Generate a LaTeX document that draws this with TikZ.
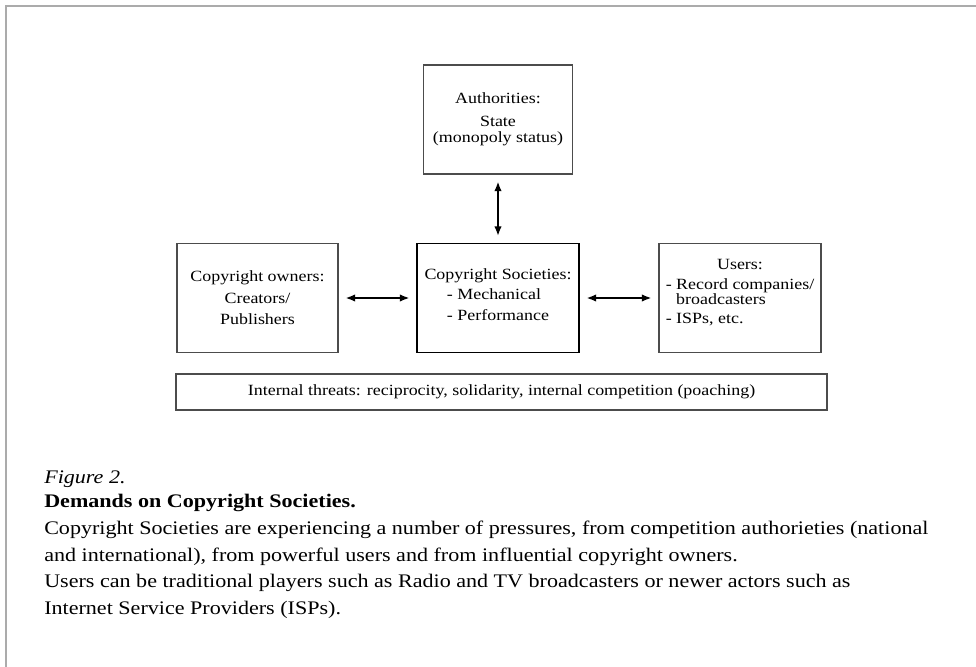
\documentclass[tikz,border=0pt]{standalone}
\usepackage{fontspec}
\setmainfont{Liberation Serif}[FakeStretch=1.15]
\usetikzlibrary{arrows.meta}

\tikzset{
  blockbox/.style={draw=black!70,line width=1.1pt,inner sep=0pt,align=center,
    font=\fontsize{11.7}{16}\selectfont},
  twoway/.style={{Latex[length=7pt,width=5.5pt]}-{Latex[length=7pt,width=5.5pt]},
    line width=1pt,shorten >=5.25pt,shorten <=5.25pt},
  captext/.style={anchor=base west,inner sep=0pt,font=\fontsize{14.4}{17}\selectfont}
}

\begin{document}
\begin{tikzpicture}[x=0.75pt,y=-0.75pt]
\path[use as bounding box] (0,0) rectangle (976,667);
\draw[black!33,line width=2.2pt] (6,667) -- (6,6) -- (976,6);
% the four boxes
\node[blockbox,minimum width=111.75pt,minimum height=81.75pt] (auth) at (498,119.5)
  {Authorities:\\[1.2pt] State\\[-4pt] (monopoly status)};
\node[blockbox,minimum width=120.75pt,minimum height=81.75pt] (owners) at (257.5,298)
  {Copyright owners:\\[0.5pt] Creators/\\[-0.25pt] Publishers};
\node[blockbox,draw=black,minimum width=121.5pt,minimum height=81.75pt] (soc) at (498,298)
  {Copyright Societies:\\[0.5pt]
   \begin{tabular}{@{}l@{}}- Mechanical\\[-0.25pt] - Performance\end{tabular}};
\node[blockbox,minimum width=121.5pt,minimum height=81.75pt] (users) at (740,298)
  {\begin{tabular}{@{}l@{}}\multicolumn{1}{@{}c@{}}{Users:}\\[-1pt]
   - Record companies/\\[-4.5pt] \phantom{- }broadcasters\\[-1.75pt]
   - ISPs, etc.\\[9pt]\end{tabular}};
\node[blockbox,minimum width=488.25pt,minimum height=27pt] (threats) at (501.5,392)
  {Internal threats: reciprocity, solidarity, internal competition (poaching)};
% arrows
\draw[twoway] (auth) -- (soc);
\draw[twoway] (owners) -- (soc);
\draw[twoway] (soc) -- (users);
% caption
\node[captext] (figno) at (44,483) {\textit{Figure 2.}};
\node[captext] (figtitle) at (44,507) {\textbf{Demands on Copyright Societies.}};
\node[captext] (capa) at (44,534) {Copyright Societies are experiencing a number of pressures, from competition authorieties (national};
\node[captext] (capb) at (44,561) {and international), from powerful users and from influential copyright owners.};
\node[captext] (capc) at (44,587) {Users can be traditional players such as Radio and TV broadcasters or newer actors such as};
\node[captext] (capd) at (44,614) {Internet Service Providers (ISPs).};
\end{tikzpicture}
\end{document}
